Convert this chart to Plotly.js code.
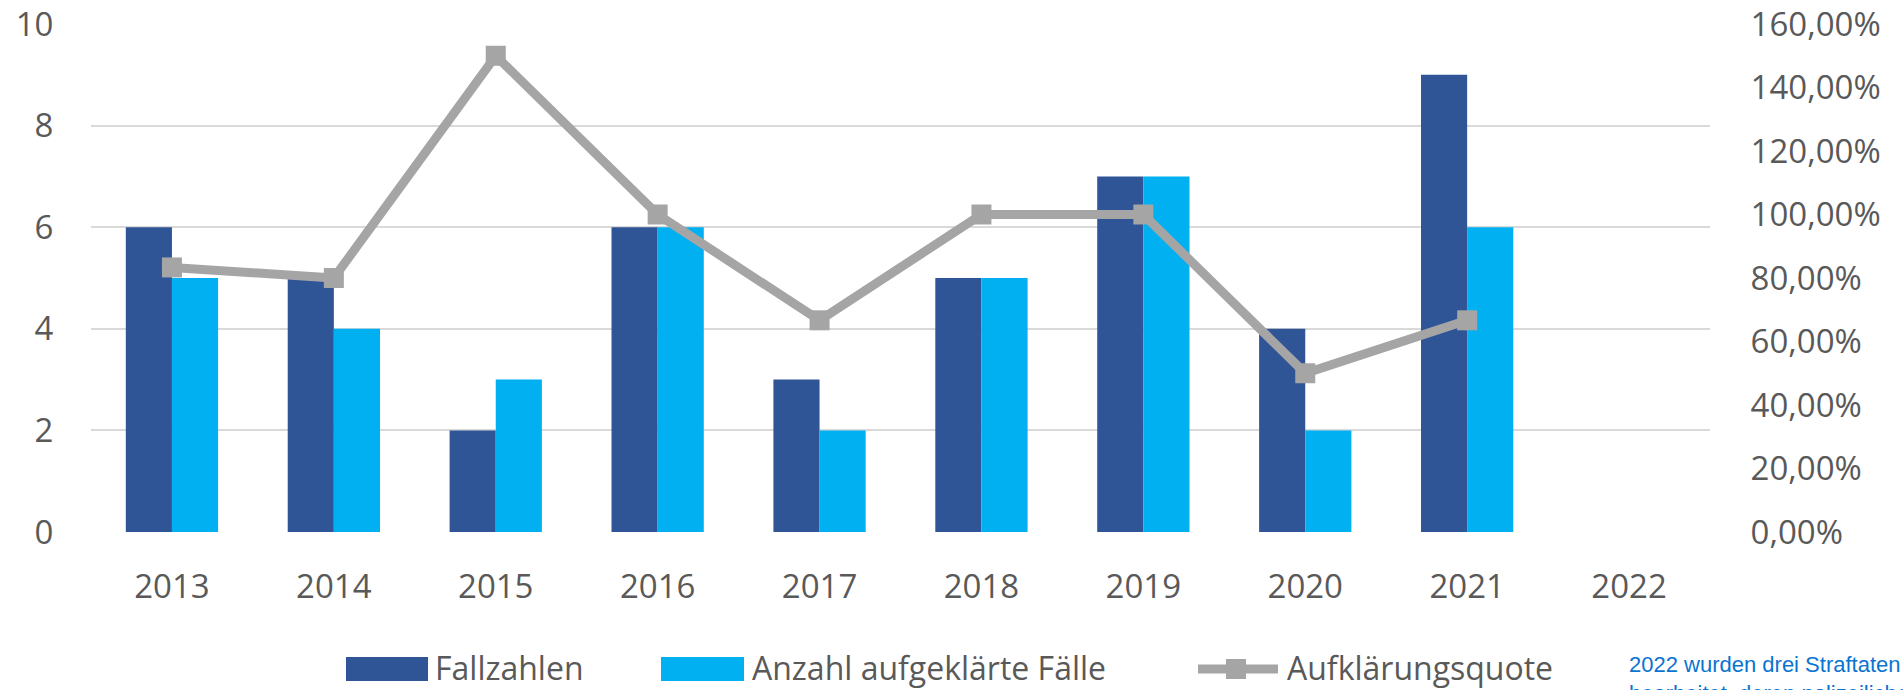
<!DOCTYPE html>
<html>
<head>
<meta charset="utf-8">
<script src="https://cdn.plot.ly/plotly-3.0.1.min.js"></script>
<style>
html,body{margin:0;padding:0;background:#fff;overflow:hidden;}
#chart{width:1903px;height:690px;}
</style>
</head>
<body>
<div id="chart"></div>
<script>
// ---- data ----
const years = ["2013","2014","2015","2016","2017","2018","2019","2020","2021","2022"];
const fallzahlen = [6, 5, 2, 6, 3, 5, 7, 4, 9, null];
const aufgeklaert = [5, 4, 3, 6, 2, 5, 7, 2, 6, null];
const quote = [0.8333, 0.80, 1.50, 1.00, 0.6667, 1.00, 1.00, 0.50, 0.6667, null];
const seriesNames = ["Fallzahlen", "Anzahl aufgeklärte Fälle", "Aufklärungsquote"];
const footnote = ["2022 wurden drei Straftaten", "bearbeitet, deren polizeiliche"];

// ---- layout geometry (pixels) ----
const W = 1903, H = 690;
const M = {l: 91, r: 193, t: 24, b: 158};
const PW = W - M.l - M.r, PH = H - M.t - M.b;
const px = x => (x - M.l) / PW;
const py = y => (H - M.b - y) / PH;

const cDark = "#2F5597", cLight = "#00B0F0", cGray = "#A5A5A5", cText = "#595959";
const tickFont = {family: "Open Sans, Noto Sans, sans-serif", size: 33, color: cText};

const traces = [
  {type: "bar", x: years, y: fallzahlen, name: seriesNames[0], marker: {color: cDark}, yaxis: "y", hoverinfo: "skip"},
  {type: "bar", x: years, y: aufgeklaert, name: seriesNames[1], marker: {color: cLight}, yaxis: "y", hoverinfo: "skip"},
  {type: "scatter", mode: "lines+markers", x: years, y: quote, name: seriesNames[2], yaxis: "y2",
   line: {color: cGray, width: 9}, marker: {symbol: "square", size: 20, color: cGray}, hoverinfo: "skip"}
];

// legend drawn as shapes + annotations
const legY = 669;
const shapes = [
  {type: "rect", xref: "paper", yref: "paper", x0: px(346), x1: px(428), y0: py(681), y1: py(657), fillcolor: cDark, line: {width: 0}},
  {type: "rect", xref: "paper", yref: "paper", x0: px(661), x1: px(744), y0: py(681), y1: py(657), fillcolor: cLight, line: {width: 0}},
  {type: "line", xref: "paper", yref: "paper", x0: px(1198), x1: px(1278), y0: py(legY), y1: py(legY), line: {color: cGray, width: 9}},
  {type: "rect", xref: "paper", yref: "paper", x0: px(1226), x1: px(1246), y0: py(legY + 10), y1: py(legY - 10), fillcolor: cGray, line: {width: 0}}
];
const legFont = {family: "Open Sans, Noto Sans, sans-serif", size: 32, color: cText};
const legTextY = 667;
const annotations = [
  {xref: "paper", yref: "paper", x: px(433), y: py(legTextY), xanchor: "left", yanchor: "middle", text: seriesNames[0], showarrow: false, font: legFont},
  {xref: "paper", yref: "paper", x: px(750), y: py(legTextY), xanchor: "left", yanchor: "middle", text: seriesNames[1], showarrow: false, font: legFont},
  {xref: "paper", yref: "paper", x: px(1285), y: py(legTextY), xanchor: "left", yanchor: "middle", text: seriesNames[2], showarrow: false, font: legFont},
  {xref: "paper", yref: "paper", x: px(1627), y: py(650), xanchor: "left", yanchor: "top", align: "left",
   text: footnote.join("<br>"), showarrow: false,
   font: {family: "Liberation Sans, Arial, sans-serif", size: 22, color: "#0A74D1"}}
];

const layout = {
  width: W, height: H,
  margin: {l: M.l, r: M.r, t: M.t, b: M.b, pad: 0, autoexpand: false},
  paper_bgcolor: "#fff", plot_bgcolor: "#fff",
  separators: ",.",
  showlegend: false,
  barmode: "group", bargap: 0.43, bargroupgap: 0,
  xaxis: {type: "category", range: [-0.5, 9.5], automargin: false, showgrid: false, zeroline: false, showline: false,
          ticks: "outside", ticklen: 25, tickcolor: "rgba(0,0,0,0)", tickfont: tickFont},
  yaxis: {range: [0, 10], dtick: 2, tick0: 0, automargin: false, showgrid: true, gridcolor: "#D9D9D9", gridwidth: 2,
          zeroline: false, showline: false, ticks: "outside", ticklen: 30, tickcolor: "rgba(0,0,0,0)", tickfont: tickFont},
  yaxis2: {range: [0, 1.6], dtick: 0.2, tick0: 0, automargin: false, overlaying: "y", side: "right", showgrid: false,
           zeroline: false, showline: false, tickformat: ".2%", ticks: "outside", ticklen: 33,
           tickcolor: "rgba(0,0,0,0)", tickfont: tickFont},
  shapes: shapes,
  annotations: annotations
};

Plotly.newPlot("chart", traces, layout, {displayModeBar: false, staticPlot: true});
</script>
</body>
</html>
